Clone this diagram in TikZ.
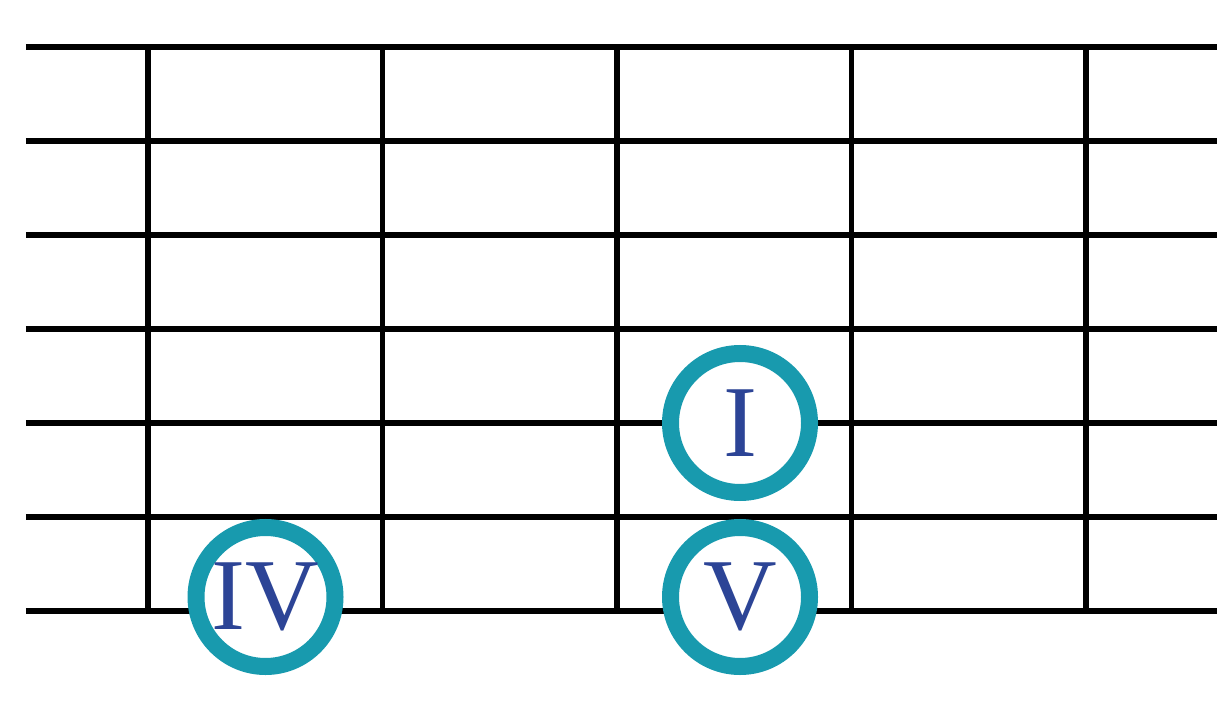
\documentclass[tikz,border=0pt]{standalone}
\usepackage{fontspec}
\setmainfont{Liberation Serif}
\usepackage{tikz}
\usetikzlibrary{positioning}
\definecolor{ringteal}{RGB}{24,154,174}
\definecolor{degblue}{RGB}{44,68,150}
\pgfkeys{tikz/fretline/.style={line width=1.65pt,black}}
\pgfkeys{tikz/degree/.style={circle,draw=ringteal,line width=0.17cm,fill=white,
      minimum size=1.39cm,inner sep=0pt,text=degblue,font=\fontsize{29}{29}\selectfont}}

\begin{document}
\begin{tikzpicture}
	\useasboundingbox (0,0) rectangle (12.27,7.04);

	% strings
	\foreach \s in {0,...,6}
		\draw[fretline] (0.26,0.93+0.94*\s) -- (12.17,0.93+0.94*\s);
	% frets
	\foreach \f in {0,...,4}
		\draw[fretline] (1.48+2.345*\f,0.93) -- (1.48+2.345*\f,6.57);

	\node [degree] (dI) at (7.40,2.81) {I};
	\node [degree] (dV) at (7.40,1.07) {V};
	\node [degree] (dIV) at (2.655,1.07) {IV};

\end{tikzpicture}
\end{document}
